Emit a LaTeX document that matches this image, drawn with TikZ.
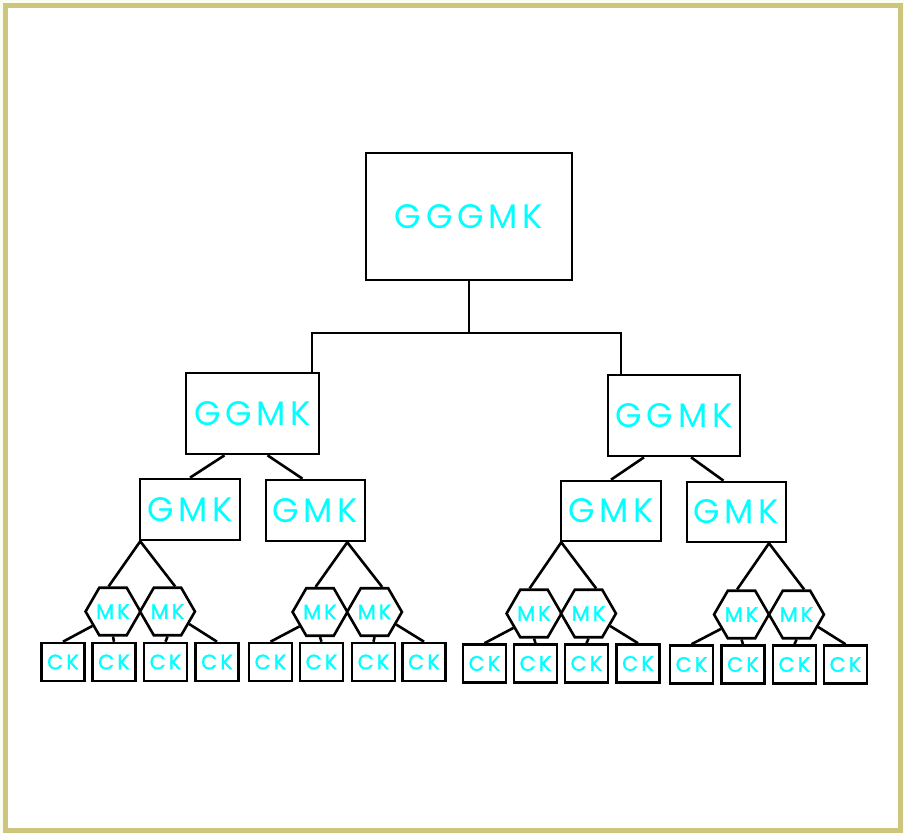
\documentclass[tikz,border=0pt]{standalone}
\usepackage{fontspec}
\usetikzlibrary{shapes.geometric, calc}
\newfontfamily\treefont[LetterSpace=14]{Poppins}
\newfontfamily\leaffont[LetterSpace=14, FakeBold=1.2]{Poppins}
\definecolor{frameline}{HTML}{CEC57C}
\definecolor{paper}{HTML}{FAFEEE}
\definecolor{label}{HTML}{00FFFF}

\begin{document}
\begin{tikzpicture}[
    x=1pt, y=-1pt,
    link/.style={line width=2.6pt, black},
    bigbox/.style={draw, line width=2.6pt, fill=white, text=label, inner sep=0pt,
                   font=\treefont\fontsize{34}{34}\selectfont},
    hexnode/.style={draw, line width=2.6pt, fill=white, text=label, inner sep=0pt,
                    regular polygon, regular polygon sides=6, minimum size=50pt,
                    font=\leaffont\fontsize{21}{21}\selectfont},
    leaf/.style={draw, line width=2.6pt, fill=white, text=label, inner sep=0pt,
                 minimum width=43pt, minimum height=38pt,
                 font=\leaffont\fontsize{21}{21}\selectfont},
]
\useasboundingbox (0,0) rectangle (904,832);
\fill[paper] (0,0) rectangle (904,832);
\draw[frameline, line width=5pt, fill=white] (5.5,5.5) rectangle (900.5,830);

\node[bigbox, minimum width=206pt, minimum height=127pt] (top) at (469,216.5) {GGGMK};

\node[bigbox, minimum width=133pt, minimum height=81pt] (ggmkL) at (252.5,413.5) {GGMK};
\node[bigbox, minimum width=132pt, minimum height=81pt] (ggmkR) at (674,415.5) {GGMK};

\node[bigbox, minimum width=100pt, minimum height=61pt] (gmk1) at (190,509.5) {GMK};
\node[bigbox, minimum width=99pt, minimum height=61pt] (gmk2) at (315.5,510.5) {GMK};
\node[bigbox, minimum width=100pt, minimum height=60pt] (gmk3) at (611,511) {GMK};
\node[bigbox, minimum width=99pt, minimum height=60pt] (gmk4) at (736.5,512) {GMK};

\node[hexnode] (hx1) at (113,611.5) {MK};
\node[hexnode] (hx2) at (167.5,611.5) {MK};
\node[hexnode] (hx3) at (320,612) {MK};
\node[hexnode] (hx4) at (374.5,612) {MK};
\node[hexnode] (hx5) at (534,613.5) {MK};
\node[hexnode] (hx6) at (588.5,613.5) {MK};
\node[hexnode] (hx7) at (741.5,614.5) {MK};
\node[hexnode] (hx8) at (796.5,614.5) {MK};

\node[leaf] (ck1) at (63,662) {CK};
\node[leaf] (ck2) at (114,662) {CK};
\node[leaf] (ck3) at (165.5,662) {CK};
\node[leaf] (ck4) at (217,662) {CK};
\node[leaf] (ck5) at (270.5,662) {CK};
\node[leaf] (ck6) at (321.5,662) {CK};
\node[leaf] (ck7) at (373.5,662) {CK};
\node[leaf] (ck8) at (424,662) {CK};
\node[leaf] (ck9) at (484.5,663.5) {CK};
\node[leaf] (ck10) at (535.5,663.5) {CK};
\node[leaf] (ck11) at (586.5,663.5) {CK};
\node[leaf] (ck12) at (638,663.5) {CK};
\node[leaf] (ck13) at (691.5,664.5) {CK};
\node[leaf] (ck14) at (743,664.5) {CK};
\node[leaf] (ck15) at (794.5,664.5) {CK};
\node[leaf] (ck16) at (845.5,664.5) {CK};

% root to the two halves
\coordinate (bus) at (469,333);
\draw[link] (top.south) -- (bus);
\draw[link] ([xshift=59.5pt]ggmkL.north) |- (bus) -| ([xshift=-53pt]ggmkR.north);

% second level
\draw[link] ([xshift=-28pt]ggmkL.south) -- (gmk1.north);
\draw[link] ([xshift=15pt]ggmkL.south) -- ([xshift=-13pt]gmk2.north);
\draw[link] ([xshift=-30pt]ggmkR.south) -- (gmk3.north);
\draw[link] ([xshift=17pt]ggmkR.south) -- ([xshift=-13pt]gmk4.north);

% third level, fanned from a point over each hexagon pair
\draw[link] (hx1.100) -- ($(gmk1.south -| hx1)!.5!(gmk1.south -| hx2)$) -- (hx2.73);
\draw[link] (hx3.100) -- ($(gmk2.south -| hx3)!.5!(gmk2.south -| hx4)$) -- (hx4.73);
\draw[link] (hx5.100) -- ($(gmk3.south -| hx5)!.5!(gmk3.south -| hx6)$) -- (hx6.73);
\draw[link] (hx7.100) -- ($(gmk4.south -| hx7)!.5!(gmk4.south -| hx8)$) -- (hx8.73);

% leaves
\draw[link] (hx1.215) -- (ck1.north);
\draw[link] (hx1.south) -- (ck2.north);
\draw[link] (hx2.south) -- (ck3.north);
\draw[link] (hx2.330) -- (ck4.north);
\draw[link] (hx3.215) -- (ck5.north);
\draw[link] (hx3.south) -- (ck6.north);
\draw[link] (hx4.south) -- (ck7.north);
\draw[link] (hx4.330) -- (ck8.north);
\draw[link] (hx5.215) -- (ck9.north);
\draw[link] (hx5.south) -- (ck10.north);
\draw[link] (hx6.south) -- (ck11.north);
\draw[link] (hx6.330) -- (ck12.north);
\draw[link] (hx7.215) -- (ck13.north);
\draw[link] (hx7.south) -- (ck14.north);
\draw[link] (hx8.south) -- (ck15.north);
\draw[link] (hx8.330) -- (ck16.north);

\end{tikzpicture}
\end{document}
